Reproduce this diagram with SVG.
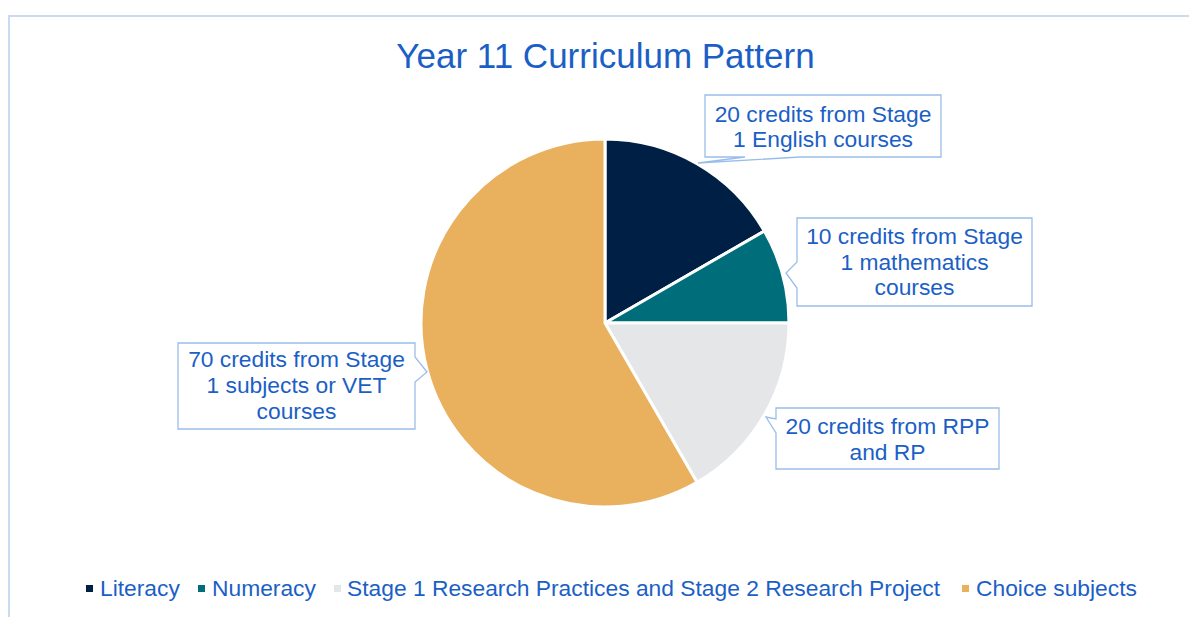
<svg xmlns="http://www.w3.org/2000/svg" width="1189" height="617" viewBox="0 0 1189 617">
<style>
  text { font-family: "Liberation Sans", Arial, sans-serif; fill: #1b5fc6; }
  .title { font-size: 35px; text-anchor: middle; }
  .lbl { font-size: 22.8px; text-anchor: middle; }
  .leg { font-size: 22.8px; }
  .slice { stroke: #ffffff; stroke-width: 3; stroke-linejoin: round; }
  .callout { fill: #ffffff; stroke: #9bbde9; stroke-width: 1.3; }
  .frame { fill: none; stroke: #c9dcef; stroke-width: 2; }
</style>
<rect x="0" y="0" width="1189" height="617" fill="#ffffff"/>
<path class="frame" d="M9,640 V16 H1200"/>
<text class="title" x="605.5" y="68">Year 11 Curriculum Pattern</text>

<g id="pie">
  <g id="slice-literacy"><path class="slice" fill="#001f45" d="M605,323 L605,139 A184,184 0 0 1 764.35,231 Z"/></g>
  <g id="slice-numeracy"><path class="slice" fill="#006d7b" d="M605,323 L764.35,231 A184,184 0 0 1 789,323 Z"/></g>
  <g id="slice-research"><path class="slice" fill="#e5e6e8" d="M605,323 L789,323 A184,184 0 0 1 697,482.35 Z"/></g>
  <g id="slice-choice"><path class="slice" fill="#e9b15e" d="M605,323 L697,482.35 A184,184 0 1 1 605,139 Z"/></g>
</g>

<g id="connectors"></g>

<g id="callout-literacy">
  <path class="callout" d="M705,95 H941 V157 H800 L698,163 L745,157 H705 Z"/>
  <text class="lbl" x="823" y="122">20 credits from Stage</text>
  <text class="lbl" x="823" y="147">1 English courses</text>
</g>
<g id="callout-numeracy">
  <path class="callout" d="M797,218 H1032 V306 H797 V288 L786,273 L797,262 Z"/>
  <text class="lbl" x="914.5" y="244">10 credits from Stage</text>
  <text class="lbl" x="914.5" y="270">1 mathematics</text>
  <text class="lbl" x="914.5" y="295">courses</text>
</g>
<g id="callout-research">
  <path class="callout" d="M776,408 H999 V469 H776 V433 L766,417 L776,419 Z"/>
  <text class="lbl" x="887.5" y="434">20 credits from RPP</text>
  <text class="lbl" x="887.5" y="460">and RP</text>
</g>
<g id="callout-choice">
  <path class="callout" d="M178,343 H415 V357 L427,372 L415,382 V429 H178 Z"/>
  <text class="lbl" x="296.5" y="367">70 credits from Stage</text>
  <text class="lbl" x="296.5" y="393">1 subjects or VET</text>
  <text class="lbl" x="296.5" y="419">courses</text>
</g>

<g id="legend">
  <rect x="86" y="585" width="7" height="7" fill="#001f45"/>
  <text class="leg" x="100" y="596">Literacy</text>
  <rect x="198" y="585" width="7" height="7" fill="#006d7b"/>
  <text class="leg" x="212" y="596">Numeracy</text>
  <rect x="334" y="585" width="7" height="7" fill="#e5e6e8"/>
  <text class="leg" x="347" y="596">Stage 1 Research Practices and Stage 2 Research Project</text>
  <rect x="962" y="585" width="7" height="7" fill="#e9b15e"/>
  <text class="leg" x="976" y="596">Choice subjects</text>
</g>
</svg>
